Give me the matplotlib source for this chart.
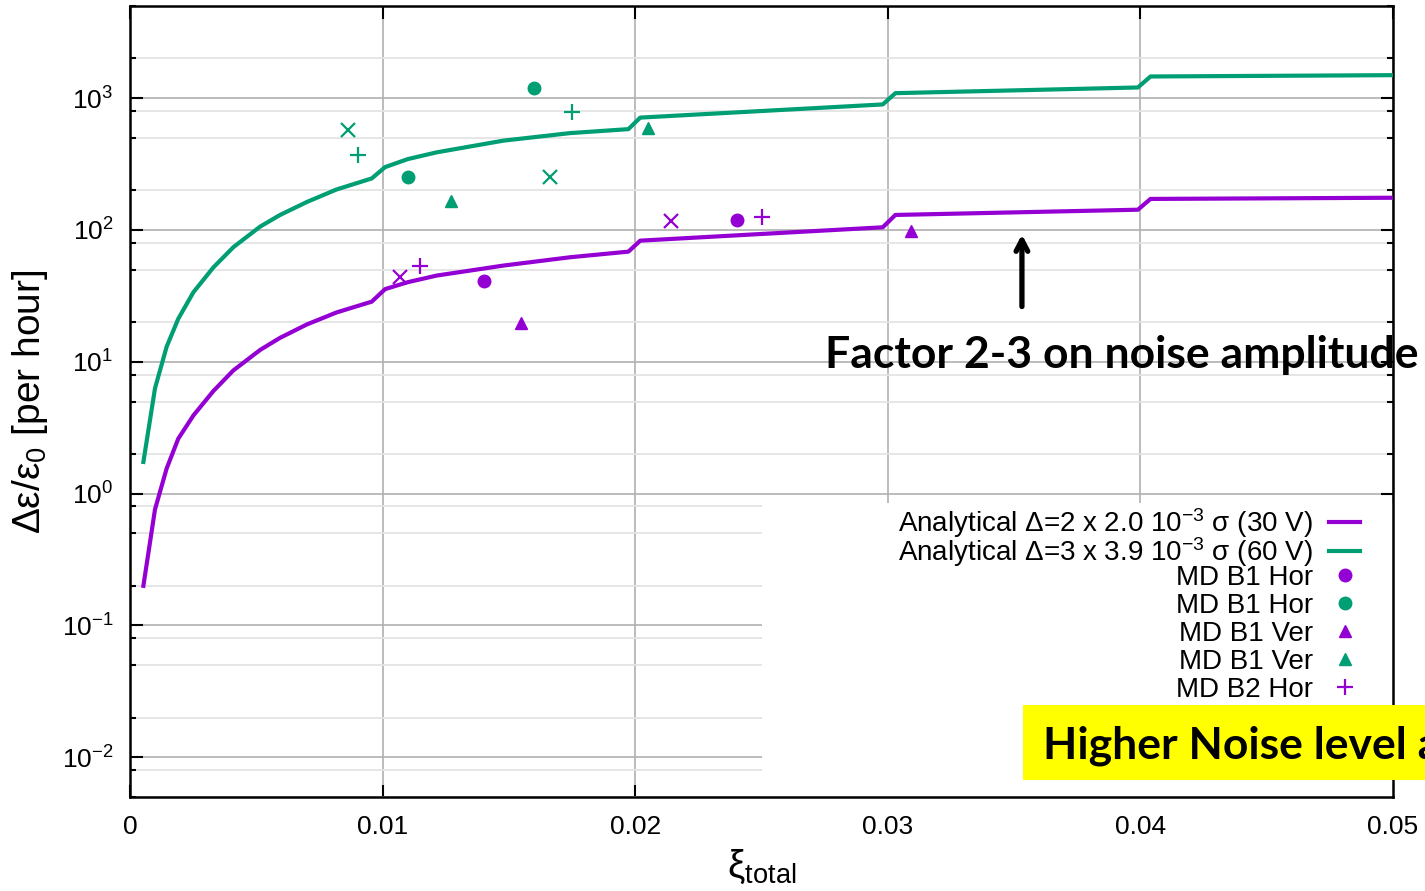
import matplotlib
matplotlib.use("Agg")
import matplotlib.pyplot as plt
from matplotlib.ticker import LogLocator, FixedLocator, NullFormatter
from matplotlib.patches import Rectangle

plt.rcParams['font.family'] = ['Liberation Sans', 'DejaVu Sans']
plt.rcParams['mathtext.fontset'] = 'custom'
plt.rcParams['mathtext.rm'] = 'Liberation Sans'
plt.rcParams['mathtext.default'] = 'regular'
plt.rcParams['axes.unicode_minus'] = False

purple = "#9400d3"
green = "#009e73"

# analytical curves
xi = [0.00053, 0.00099, 0.00145, 0.00191, 0.00251, 0.0033, 0.00409, 0.00515, 0.00594,
      0.0070, 0.00818, 0.00957, 0.0101, 0.011, 0.01214, 0.01478, 0.01742, 0.01973, 0.0202,
      0.0298, 0.0303, 0.0399, 0.0404, 0.05]
rate_30V = [0.20, 0.76, 1.55, 2.61, 3.92, 6.0, 8.6, 12.3, 15.2,
            19.2, 23.7, 28.6, 35.6, 40.2, 45.1, 53.7, 62.1, 68.5, 83.0,
            104.8, 130.0, 142.5, 172.0, 175.6]
rate_60V = [1.74, 6.3, 13.0, 21.2, 33.7, 52.0, 74.0, 106.0, 130.0,
            163.0, 203.0, 246.0, 300.0, 345.0, 388.0, 476.0, 543.0, 582.0, 712.0,
            896.0, 1091.0, 1205.0, 1460.0, 1494.0]

# MD measurements (purple = 30 V, green = 60 V)
b1h_x_p = [0.01401, 0.02402]; b1h_y_p = [41.3, 119.0]
b1h_x_g = [0.01102, 0.01601]; b1h_y_g = [251.0, 1184.0]
b1v_x_p = [0.01547, 0.03091]; b1v_y_p = [19.7, 98.0]
b1v_x_g = [0.01271, 0.02052]; b1v_y_g = [167.0, 589.0]
b2h_x_p = [0.01150, 0.02500]; b2h_y_p = [53.1, 124.8]
b2h_x_g = [0.00903, 0.01751]; b2h_y_g = [370.0, 779.0]
b2v_x_p = [0.01069, 0.02142]; b2v_y_p = [44.3, 116.4]
b2v_x_g = [0.00863, 0.01663]; b2v_y_g = [573.0, 254.0]

fig = plt.figure(figsize=(14.25, 8.91), dpi=100)
ax = fig.add_axes([130/1425, 1 - 797/891, 1263/1425, 791/891])

ax.set_yscale('log')
ax.set_xlim(0, 0.05)
ax.set_ylim(0.005, 5000)

l1, = ax.plot(xi, rate_30V, color=purple, lw=3, label=r'Analytical Δ=2 x 2.0 10$^{-3}$ σ (30 V)', zorder=4)
l2, = ax.plot(xi, rate_60V, color=green, lw=3, label=r'Analytical Δ=3 x 3.9 10$^{-3}$ σ (60 V)', zorder=4)

ms = 9
pts = []
pts += ax.plot(b1h_x_p, b1h_y_p, 'o', color=purple, ms=ms, label='MD B1 Hor', zorder=5)
pts += ax.plot(b1h_x_g, b1h_y_g, 'o', color=green, ms=ms, label='MD B1 Hor', zorder=5)
pts += ax.plot(b1v_x_p, b1v_y_p, '^', color=purple, ms=ms, label='MD B1 Ver', zorder=5)
pts += ax.plot(b1v_x_g, b1v_y_g, '^', color=green, ms=ms, label='MD B1 Ver', zorder=5)
pts += ax.plot(b2h_x_p, b2h_y_p, '+', color=purple, ms=11, mew=1.6, label='MD B2 Hor', zorder=5)
pts += ax.plot(b2h_x_g, b2h_y_g, '+', color=green, ms=11, mew=1.6, label='MD B2 Hor', zorder=5)
pts += ax.plot(b2v_x_p, b2v_y_p, 'x', color=purple, ms=10, mew=1.6, label='MD B2 Ver', zorder=5)
ax.plot(b2v_x_g, b2v_y_g, 'x', color=green, ms=10, mew=1.6, zorder=5)

# ticks and grid
ax.xaxis.set_major_locator(FixedLocator([0, 0.01, 0.02, 0.03, 0.04, 0.05]))
ax.set_xticklabels(['0', '0.01', '0.02', '0.03', '0.04', '0.05'])
ax.yaxis.set_major_locator(LogLocator(base=10, numticks=20))
ax.yaxis.set_minor_locator(LogLocator(base=10, subs=[2, 5, 8], numticks=20))
ax.yaxis.set_minor_formatter(NullFormatter())
ax.tick_params(which='both', direction='in', top=True, right=True, labelsize=19, width=1.5)
ax.tick_params(which='major', length=9, pad=13)
ax.tick_params(which='minor', length=4.5)
ax.tick_params(axis='y', pad=12)
ax.grid(True, which='major', color='#b0b0b0', lw=1.2, zorder=0)
ax.grid(True, which='minor', axis='y', color='#e4e4e4', lw=1.3, zorder=0)
ax.set_axisbelow(True)
for s in ax.spines.values():
    s.set_linewidth(1.8)

# white key area hiding the grid
ax.add_patch(Rectangle((632/1263, 0), 1 - 632/1263, 294/791, transform=ax.transAxes,
                       facecolor='white', edgecolor='none', zorder=1))

leg_kw = dict(loc='upper right', bbox_transform=fig.transFigure, frameon=False,
              markerfirst=False, fontsize=20, handlelength=1.1, handletextpad=0.6,
              borderpad=0, borderaxespad=0)
leg1 = ax.legend(handles=[l1, l2], bbox_to_anchor=(1360/1425, 1 - 506/891),
                 labelspacing=-0.18, **leg_kw)
leg1.set_zorder(6)
ax.add_artist(leg1)
leg2 = ax.legend(handles=pts, bbox_to_anchor=(1360/1425, 1 - 565/891),
                 labelspacing=0.07, **leg_kw)
leg2.set_zorder(6)

ax.set_xlabel(r'ξ$_{total}$', fontsize=28, labelpad=6)
ax.set_ylabel(r'Δε/ε$_{0}$ [per hour]', fontsize=28, labelpad=8)

# annotations
ax.annotate('', xy=(0.03531, 97.0), xytext=(0.03531, 25.0),
            arrowprops=dict(arrowstyle='->,head_length=0.8,head_width=0.42', lw=3.8, color='black'),
            zorder=7)
fig.text(825/1425, 1 - 355/891, 'Factor 2-3 on noise amplitude', fontsize=32,
         fontweight='bold', family='Lato', va='center', ha='left', zorder=8)

fig.patches.append(Rectangle((1023/1425, 1 - 780/891), 1 - 1023/1425, 75/891,
                             transform=fig.transFigure, facecolor='#ffff00',
                             edgecolor='none', zorder=9))
fig.text(1043/1425, 1 - 746/891, 'Higher Noise level a', fontsize=32,
         fontweight='bold', family='Lato', va='center', ha='left', zorder=10)

fig.savefig('out.png', dpi=100)
